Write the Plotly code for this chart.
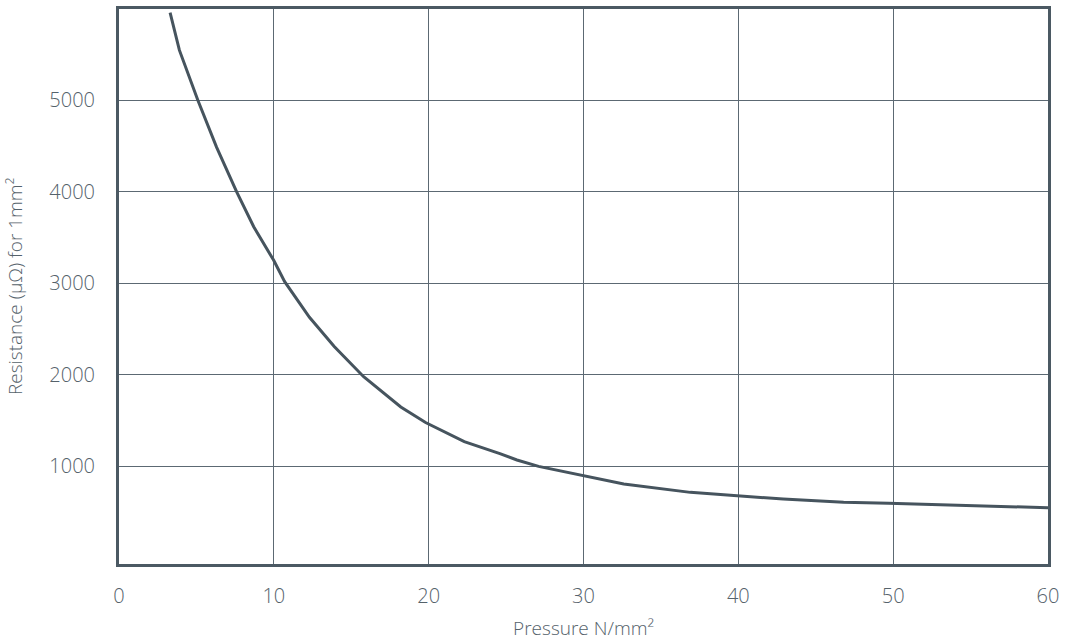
import plotly.graph_objects as go

pressure = [3.3, 3.9, 5.1, 6.3, 7.6, 8.7, 10.0, 10.7, 12.3, 13.9, 15.8, 18.2, 19.8,
            22.3, 24.6, 25.7, 27.1, 29.7, 32.6, 36.9, 39.6, 42.9, 46.8, 49.7, 60.0]
resistance = [5960, 5550, 5000, 4490, 4000, 3620, 3250, 3020, 2630, 2310, 1980, 1650, 1480,
              1270, 1140, 1070, 1000, 905, 807, 716, 683, 643, 607, 596, 548]

x_ticks = [0, 10, 20, 30, 40, 50, 60]
y_ticks = [1000, 2000, 3000, 4000, 5000]
x_title = "Pressure N/mm²"
y_title = "Resistance (µΩ) for 1mm²"

frame_col = "#4b5963"
grid_col = "#5c6973"
text_col = "#55626b"
font_fam = "Open Sans"

fig = go.Figure()
fig.add_trace(go.Scatter(x=pressure, y=resistance, mode="lines",
                         line=dict(color="#46545e", width=3), hoverinfo="skip",
                         showlegend=False))

fig.update_layout(
    width=1065, height=641,
    margin=dict(l=119, r=17, t=9, b=77),
    paper_bgcolor="white", plot_bgcolor="white",
    font=dict(family=font_fam, color=text_col, size=19, weight=300),
)
fig.update_xaxes(
    range=[0, 60], tickvals=x_ticks, ticktext=[str(v) for v in x_ticks],
    showgrid=True, gridcolor=grid_col, gridwidth=1.2,
    showline=True, linecolor=frame_col, linewidth=3, mirror=True,
    zeroline=False, ticks="", ticklabelstandoff=12, automargin=False,
    tickfont=dict(size=20, color=text_col, family=font_fam, weight=300),
    title=dict(text=x_title, standoff=18,
               font=dict(size=19, color=text_col, family=font_fam, weight=300)),
)
fig.update_yaxes(
    range=[-67, 6000], tickvals=y_ticks, ticktext=[str(v) for v in y_ticks],
    showgrid=True, gridcolor=grid_col, gridwidth=1.2,
    showline=True, linecolor=frame_col, linewidth=3, mirror=True,
    zeroline=False, ticks="", ticklabelstandoff=17, automargin=False,
    tickfont=dict(size=20, color=text_col, family=font_fam, weight=300),
    title=dict(text=y_title, standoff=22,
               font=dict(size=19, color=text_col, family=font_fam, weight=300)),
)

fig.write_html("out.html", config={"displayModeBar": False},
               post_script="document.body.style.margin='0';")
